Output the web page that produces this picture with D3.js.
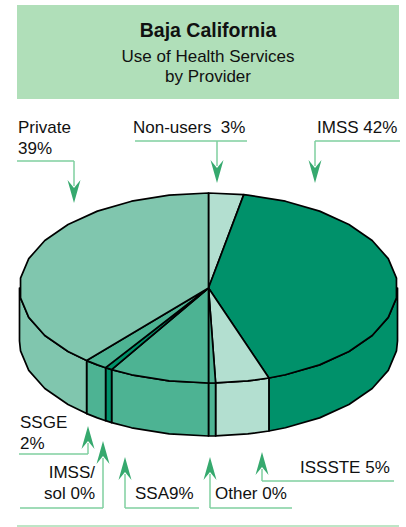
<!DOCTYPE html>
<html>
<head>
<meta charset="utf-8">
<script src="https://cdn.jsdelivr.net/npm/d3@7"></script>
<style>
  body { margin: 0; background: #fff; }
  text { font-family: "Liberation Sans", Arial, sans-serif; fill: #111; white-space: pre; }
</style>
</head>
<body>
<script>
// données (sens horaire depuis midi)
let categories = ["Non-users", "IMSS", "ISSSTE", "Other", "SSA", "IMSS/sol", "SSGE", "Private"]
let valeurs = [3, 42, 4.6, 0.6, 8.6, 0.6, 2, 39]
let couleurs = ["#b3dfd0", "#00916a", "#b3dfd0", "#4db393", "#4db393", "#00916a", "#4db393", "#80c6ae"]

// étiquettes : lignes de texte, position, flèche
let etiquettes = [
  { lignes: ["Private", "39%"], x: 18, y: 133, ancre: "start", ligne: [[17, 161], [74, 161]], fleche: [74, 161, 203] },
  { lignes: ["Non-users  3%"], x: 133, y: 133, ancre: "start", ligne: [[135, 141], [247, 141]], fleche: [217, 141, 183] },
  { lignes: ["IMSS 42%"], x: 317, y: 133, ancre: "start", ligne: [[400, 141], [315, 141]], fleche: [315, 141, 183] },
  { lignes: ["SSGE", "2%"], x: 20, y: 428, ancre: "start", ligne: [[19, 454], [88, 454]], fleche: [88, 454, 426] },
  { lignes: ["IMSS/", "sol 0%"], x: 95, y: 478, ancre: "end", ligne: [[20, 508], [103, 508]], fleche: [103, 508, 441] },
  { lignes: ["SSA9%"], x: 135, y: 499, ancre: "start", ligne: [[199, 508], [125, 508]], fleche: [125, 508, 457] },
  { lignes: ["Other 0%"], x: 215, y: 499, ancre: "start", ligne: [[292, 508], [210, 508]], fleche: [210, 508, 457] },
  { lignes: ["ISSSTE 5%"], x: 300, y: 473, ancre: "start", ligne: [[394, 481], [262, 481]], fleche: [262, 481, 452] }
]

let width = 406, height = 527

let svg = d3.select("body").append("svg")
  .attr("width", width)
  .attr("height", height)

// titre
svg.append("rect")
  .attr("x", 17).attr("y", 5).attr("width", 382).attr("height", 94)
  .attr("fill", "#b0dfb9")
svg.append("text").attr("x", 208).attr("y", 37).attr("text-anchor", "middle")
  .style("font-size", "19.5px").style("font-weight", "bold").text("Baja California")
svg.append("text").attr("x", 208).attr("y", 62).attr("text-anchor", "middle")
  .style("font-size", "17px").text("Use of Health Services")
svg.append("text").attr("x", 208).attr("y", 82).attr("text-anchor", "middle")
  .style("font-size", "17px").text("by Provider")

// ligne du bas
svg.append("line")
  .attr("x1", 17).attr("x2", 399).attr("y1", 526).attr("y2", 526)
  .attr("stroke", "#a8dcb3").attr("stroke-width", 1.5)

// camembert 3D
let cx = 208.5, cy = 288, rx = 189, ry = 95, profondeur = 53
let x = d3.scaleLinear().domain([-1, 1]).range([cx - rx, cx + rx])
let y = d3.scaleLinear().domain([-1, 1]).range([cy - ry, cy + ry])

let pie = d3.pie().sort(null).value(d => d)
let parts = pie(valeurs)

let pas = Math.PI / 15

function point(a, dy) {
  return [x(Math.sin(a)), y(-Math.cos(a)) + dy]
}

function pointsArc(a0, a1, dy) {
  let pts = [point(a0, dy)]
  let k = Math.floor(a0 / pas) + 1
  while (k * pas < a1 - 1e-6) {
    pts.push(point(k * pas, dy))
    k++
  }
  pts.push(point(a1, dy))
  return pts
}

let ligne = d3.line()

// côtés (moitié avant)
let gCotes = svg.append("g")
parts.forEach((p, i) => {
  let a = Math.max(p.startAngle, Math.PI / 2)
  let b = Math.min(p.endAngle, 3 * Math.PI / 2)
  if (b <= a) return
  let haut = pointsArc(a, b, 0)
  let bas = pointsArc(a, b, profondeur).reverse()
  gCotes.append("path")
    .attr("d", ligne(haut.concat(bas)) + "Z")
    .attr("fill", couleurs[i])
    .attr("stroke", "#000")
    .attr("stroke-width", 1.7)
    .attr("stroke-linejoin", "round")
})

// dessus
let gDessus = svg.append("g")
parts.forEach((p, i) => {
  let pts = [[cx, cy]].concat(pointsArc(p.startAngle, p.endAngle, 0))
  gDessus.append("path")
    .attr("d", ligne(pts) + "Z")
    .attr("fill", couleurs[i])
    .attr("stroke", "#000")
    .attr("stroke-width", 1.7)
    .attr("stroke-linejoin", "round")
})

// étiquettes et flèches
let vert = "#36a96e"
let gEtiq = svg.append("g")
etiquettes.forEach(e => {
  e.lignes.forEach((t, j) => {
    gEtiq.append("text")
      .attr("x", e.x).attr("y", e.y + j * 21)
      .attr("text-anchor", e.ancre)
      .style("font-size", "17px")
      .text(t)
  })
  gEtiq.append("path")
    .attr("d", ligne(e.ligne))
    .attr("stroke", "#7fcf9f").attr("stroke-width", 1.5).attr("fill", "none")

  let fx = e.fleche[0], y0 = e.fleche[1], pointe = e.fleche[2]
  let sens = pointe > y0 ? 1 : -1
  let base = pointe - sens * 23
  gEtiq.append("line")
    .attr("x1", fx).attr("x2", fx).attr("y1", y0).attr("y2", base + sens * 6)
    .attr("stroke", "#7fcf9f").attr("stroke-width", 1.5)
  gEtiq.append("path")
    .attr("d", ligne([[fx, pointe], [fx - 6.5, base], [fx, base + sens * 8], [fx + 6.5, base]]) + "Z")
    .attr("fill", vert)
})
</script>
</body>
</html>
